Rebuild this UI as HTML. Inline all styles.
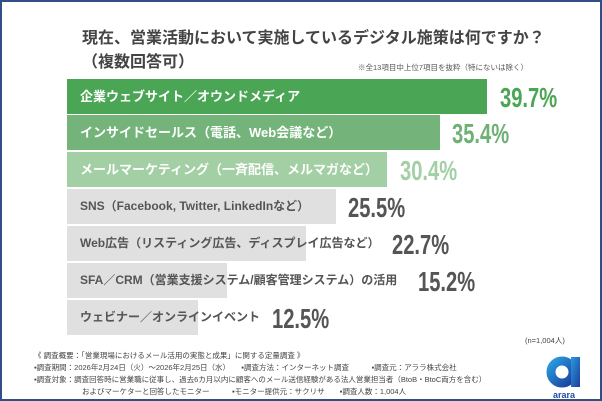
<!DOCTYPE html>
<html><head><meta charset="utf-8"><style>
body{margin:0;width:602px;height:401px;overflow:hidden;background:#fff;font-family:"Liberation Sans","Noto Sans CJK JP",sans-serif}
.frame{position:absolute;left:0;top:0;width:598px;height:397px;border:2px solid #2f4f86}
.t{position:absolute;white-space:nowrap}
.bar{position:absolute;left:67px;height:35px}
.lab{position:absolute;left:80px;font-size:13px;font-weight:bold;line-height:35px;white-space:nowrap}
.val{position:absolute;font-size:28px;font-weight:bold;line-height:35px;transform:scaleX(.72);transform-origin:left center;white-space:nowrap}
.f{position:absolute;font-size:7.5px;line-height:9px;color:#444;white-space:nowrap}
</style></head><body>
<div class="frame"></div>
<div class="t" style="left:82px;top:24px;font-size:16px;font-weight:bold;color:#444">現在、営業活動において実施しているデジタル施策は何ですか？</div>
<div class="t" style="left:82px;top:48px;font-size:16px;font-weight:bold;color:#444">（複数回答可）</div>
<div class="t" style="left:358px;top:62px;font-size:7.5px;color:#555">※全13項目中上位7項目を抜粋（特にないは除く）</div>

<div class="bar" style="top:79px;width:420px;background:#4aa654"></div>
<div class="lab" style="top:79px;color:#fff">企業ウェブサイト／オウンドメディア</div>
<div class="val" style="top:80px;left:500px;color:#4aa654">39.7%</div>

<div class="bar" style="top:115px;width:373px;background:#74b47a"></div>
<div class="lab" style="top:115px;color:#fff">インサイドセールス（電話、Web会議など）</div>
<div class="val" style="top:116px;left:452px;color:#6fb075">35.4%</div>

<div class="bar" style="top:152px;width:320px;background:#a3cfa5"></div>
<div class="lab" style="top:152px;color:#fff">メールマーケティング（一斉配信、メルマガなど）</div>
<div class="val" style="top:153px;left:400px;color:#a3cfa5">30.4%</div>

<div class="bar" style="top:189px;width:269px;background:#e0e0e0"></div>
<div class="lab" style="top:189px;color:#555;font-size:12px">SNS（Facebook, Twitter, LinkedInなど）</div>
<div class="val" style="top:190px;left:348px;color:#555">25.5%</div>

<div class="bar" style="top:226px;width:239px;background:#e0e0e0"></div>
<div class="lab" style="top:226px;color:#555;font-size:12px">Web広告（リスティング広告、ディスプレイ広告など）</div>
<div class="val" style="top:227px;left:392px;color:#555">22.7%</div>

<div class="bar" style="top:263px;width:160px;background:#e0e0e0"></div>
<div class="lab" style="top:263px;color:#555;font-size:12px">SFA／CRM（営業支援システム/顧客管理システム）の活用</div>
<div class="val" style="top:264px;left:418px;color:#555">15.2%</div>

<div class="bar" style="top:300px;width:131px;background:#e0e0e0"></div>
<div class="lab" style="top:300px;color:#555;font-size:12px">ウェビナー／オンラインイベント</div>
<div class="val" style="top:301px;left:272px;color:#555">12.5%</div>

<div class="f" style="left:525px;top:336px">(n=1,004人)</div>
<div class="f" style="left:34px;top:351px">《 調査概要：「営業現場におけるメール活用の実態と成果」に関する定量調査 》</div>
<div class="f" style="left:34px;top:363px">▪調査期間：2026年2月24日（火）～2026年2月25日（水）　　▪調査方法：インターネット調査　　　▪調査元：アララ株式会社</div>
<div class="f" style="left:34px;top:375px">▪調査対象：調査回答時に営業職に従事し、過去6カ月以内に顧客へのメール送信経験がある法人営業担当者（BtoB・BtoC両方を含む）</div>
<div class="f" style="left:82px;top:387px">およびマーケターと回答したモニター　　　▪モニター提供元：サクリサ　　▪調査人数：1,004人</div>
<svg style="position:absolute;left:544px;top:354px" width="40" height="46">
<defs><linearGradient id="g" x1="0" y1="0" x2="1" y2="1"><stop offset="0" stop-color="#2a9be0"/><stop offset="1" stop-color="#1a3f9a"/></linearGradient></defs>
<circle cx="18" cy="18" r="11" fill="none" stroke="url(#g)" stroke-width="9"/>
<rect x="27" y="3" width="9" height="30" fill="url(#g)"/>
<text x="20" y="44" font-size="9" font-weight="bold" fill="#1f4fa0" text-anchor="middle" font-family="Liberation Sans">arara</text>
</svg>
</body></html>
